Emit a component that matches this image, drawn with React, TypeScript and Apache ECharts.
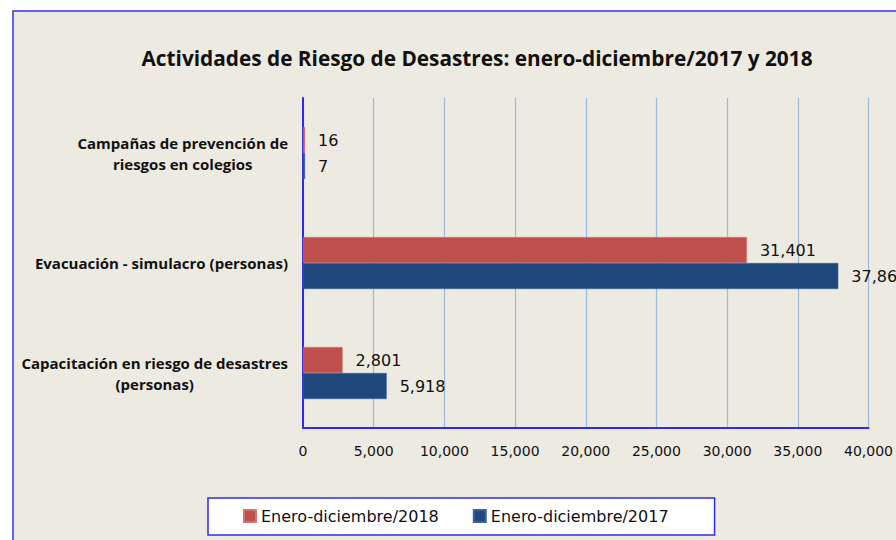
import React, { useEffect, useRef } from 'react';
import * as echarts from 'echarts';

const categories = [
  'Capacitación en riesgo de desastres\n(personas)',
  'Evacuación - simulacro (personas)',
  'Campañas de prevención de\nriesgos en colegios',
];
const series2018Name = 'Enero-diciembre/2018';
const series2017Name = 'Enero-diciembre/2017';
const values2018 = [2801, 31401, 16];
const values2017 = [5918, 37862, 7];
const xMin = 0;
const xMax = 40000;
const xInterval = 5000;

const fmt = (v: number) => Number(v).toLocaleString('en-US');

export default function App() {
  const ref = useRef<HTMLDivElement>(null);
  useEffect(() => {
    if (!ref.current) return;
    const chart = echarts.init(ref.current, null, { renderer: 'svg' });
    const labelStyle = {
      show: true,
      position: 'right' as const,
      distance: 13,
      fontFamily: 'DejaVu Sans',
      fontSize: 16,
      color: '#111',
      formatter: (p: any) => fmt(p.value),
    };
    chart.setOption({
      animation: false,
      backgroundColor: '#ffffff',
      graphic: [
        {
          type: 'rect',
          z: -100,
          silent: true,
          shape: { x: 13, y: 11, width: 1200, height: 800 },
          style: { fill: '#EDEAE1', stroke: '#3535EE', lineWidth: 1.5 },
        },
      ],
      title: {
        text: 'Actividades de Riesgo de Desastres: enero-diciembre/2017 y 2018',
        left: 472,
        textAlign: 'center',
        top: 42,
        textStyle: { fontFamily: 'Open Sans', fontWeight: 'bold', fontSize: 20.8, color: '#111' },
      },
      legend: {
        data: [series2018Name, series2017Name],
        left: 208,
        top: 498,
        backgroundColor: '#ffffff',
        borderColor: '#2B2BF0',
        borderWidth: 1.5,
        borderRadius: 0,
        padding: [10, 46, 11, 35],
        itemWidth: 12,
        itemHeight: 12,
        itemGap: 34,
        icon: 'rect',
        textStyle: { fontFamily: 'DejaVu Sans', fontSize: 16, color: '#111' },
      },
      grid: { left: 303, right: 23, top: 98, bottom: 112, containLabel: false },
      xAxis: {
        type: 'value',
        min: xMin,
        max: xMax,
        interval: xInterval,
        axisLine: { show: true, lineStyle: { color: '#2B2BF0', width: 2 } },
        axisTick: { show: false },
        splitLine: { show: true, lineStyle: { color: '#9DB9DE', width: 1.2 } },
        axisLabel: {
          margin: 16,
          fontFamily: 'DejaVu Sans',
          fontSize: 14,
          color: '#111',
          formatter: (v: number) => fmt(v),
        },
      },
      yAxis: {
        type: 'category',
        data: categories,
        axisLine: { show: true, lineStyle: { color: '#2B2BF0', width: 2 } },
        axisTick: { show: false },
        splitLine: { show: false },
        axisLabel: {
          margin: 15,
          formatter: (v: string) => v.split('\n').map((l) => `{c|${l}}`).join('\n'),
          rich: {
            c: {
              align: 'center',
              fontFamily: 'Open Sans',
              fontWeight: 'bold',
              fontSize: 15,
              lineHeight: 21,
              color: '#111',
            },
          },
        },
      },
      series: [
        {
          name: series2018Name,
          type: 'bar',
          data: values2018,
          barWidth: 26,
          barGap: '0%',
          barMinHeight: 2,
          itemStyle: { color: '#C0504D', borderColor: '#D07572', borderWidth: 0.5 },
          label: labelStyle,
        },
        {
          name: series2017Name,
          type: 'bar',
          data: values2017,
          barWidth: 26,
          barGap: '0%',
          barMinHeight: 2,
          itemStyle: { color: '#1F497D', borderColor: '#3A62A0', borderWidth: 0.5 },
          label: labelStyle,
        },
      ],
    });
    return () => chart.dispose();
  }, []);
  return (
    <div
      ref={ref}
      style={{ position: 'fixed', left: 0, top: 0, width: 896, height: 540 }}
    />
  );
}
